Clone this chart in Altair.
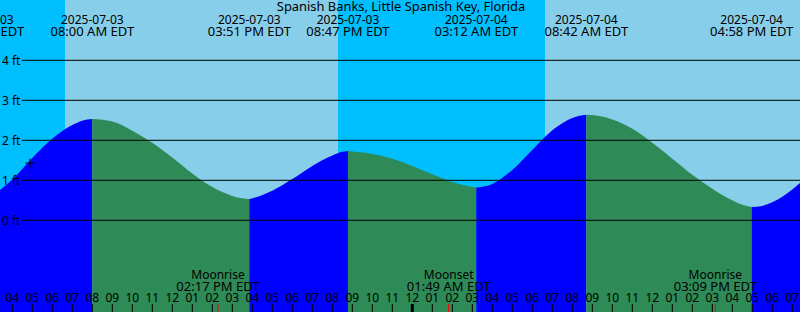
import altair as alt
import pandas as pd

# ---------------- data ----------------
TITLE = "Spanish Banks, Little Spanish Key, Florida"

# x axis: hours since 2025-07-03 00:00 EDT
X_DOMAIN = [3.385, 43.385]
Y_DOMAIN = [-2.2925, 5.5075]  # feet

sky_start = [3.385, 6.635, 20.285, 30.635]
sky_end = [6.635, 20.285, 30.635, 43.385]
sky_kind = ["night", "day", "night", "day"]

tide_hours = [3.385, 4, 5, 6, 7, 7.5, 8.0,
              9, 10, 11, 12, 13, 14, 15, 15.5, 15.85,
              16, 17, 18, 19, 20, 20.4, 20.783,
              21, 22, 23, 24, 25, 26, 27, 27.2,
              27.7, 28, 29, 30, 31, 32, 32.3, 32.7,
              33, 34, 35, 36, 37, 38, 39, 40, 40.5, 40.967,
              41.5, 42, 42.5, 43, 43.385]
tide_ft = [0.76, 1.02, 1.56, 2.04, 2.38, 2.49, 2.53,
           2.47, 2.24, 1.94, 1.57, 1.17, 0.83, 0.61, 0.55, 0.53,
           0.55, 0.74, 1.03, 1.36, 1.62, 1.70, 1.73,
           1.72, 1.66, 1.54, 1.36, 1.15, 0.96, 0.835, 0.82,
           0.855, 0.91, 1.26, 1.76, 2.25, 2.56, 2.61, 2.64,
           2.63, 2.52, 2.29, 1.94, 1.54, 1.14, 0.79, 0.50, 0.39, 0.33,
           0.36, 0.45, 0.59, 0.77, 0.93]

extreme_hours = [8.0, 15.85, 20.783, 27.2, 32.7, 40.967]
segment_dir = ["rising", "falling", "rising", "falling", "rising", "falling", "rising"]

event_hours = [2.5, 8.0, 15.85, 20.783, 27.2, 32.7, 40.967]
event_dates = ["2025-07-03", "2025-07-03", "2025-07-03", "2025-07-03",
               "2025-07-04", "2025-07-04", "2025-07-04"]
event_times = ["02:30 AM EDT", "08:00 AM EDT", "03:51 PM EDT", "08:47 PM EDT",
               "03:12 AM EDT", "08:42 AM EDT", "04:58 PM EDT"]

moon_hours = [14.283, 25.817, 39.15]
moon_names = ["Moonrise", "Moonset", "Moonrise"]
moon_times = ["02:17 PM EDT", "01:49 AM EDT", "03:09 PM EDT"]

hour_ticks = list(range(4, 44))
hour_labels = ["04", "05", "06", "07", "08", "09", "10", "11", "12",
               "01", "02", "03", "04", "05", "06", "07", "08", "09", "10", "11", "12",
               "01", "02", "03", "04", "05", "06", "07", "08", "09", "10", "11", "12",
               "01", "02", "03", "04", "05", "06", "07"]
midnight_hours = [24]

grid_ft = [0, 1, 2, 3, 4]
grid_labels = ["0 ft", "1 ft", "2 ft", "3 ft", "4 ft"]

now_hour = [4.885]
now_ft = [1.43]

# ---------------- tables ----------------
W, H = 800, 312
FONT = "Noto Sans"
FS = 12

sky_df = pd.DataFrame({"h": sky_start, "h2": sky_end, "kind": sky_kind})

rows = []
for h, v in zip(tide_hours, tide_ft):
    seg = sum(1 for e in extreme_hours if e < h)
    rows.append({"h": h, "ft": v, "base": Y_DOMAIN[0], "seg": seg, "kind": segment_dir[seg]})
    if h in extreme_hours:
        rows.append({"h": h, "ft": v, "base": Y_DOMAIN[0], "seg": seg + 1,
                     "kind": segment_dir[seg + 1]})
tide_df = pd.DataFrame(rows)

event_df = pd.DataFrame({"h": event_hours, "d": event_dates, "t": event_times})
moon_df = pd.DataFrame({"h": moon_hours, "n": moon_names, "t": moon_times})
tick_df = pd.DataFrame({"h": hour_ticks, "lab": hour_labels,
                        "w": [3 if h in midnight_hours else 1 for h in hour_ticks]})
grid_df = pd.DataFrame({"ft": grid_ft, "lab": grid_labels})
now_df = pd.DataFrame({"h": now_hour, "ft": now_ft})
title_df = pd.DataFrame({"t": [TITLE]})

xs = alt.Scale(domain=X_DOMAIN, nice=False, zero=False)
ys = alt.Scale(domain=Y_DOMAIN, nice=False, zero=False)
cs = alt.Scale(domain=["night", "day", "rising", "falling"],
               range=["#00bfff", "#87ceeb", "#0000ff", "#2e8b57"])

X = alt.X("h:Q", scale=xs, axis=None)
Y = alt.Y("ft:Q", scale=ys, axis=None)


def txt(df, size=FS, **kw):
    return alt.Chart(df).mark_text(font=FONT, fontSize=size, color="black", **kw)


sky = alt.Chart(sky_df).mark_rect().encode(
    x=X, x2="h2:Q", y=alt.value(0), y2=alt.value(H),
    color=alt.Color("kind:N", scale=cs, legend=None))

water = alt.Chart(tide_df).mark_area(interpolate="monotone", opacity=1).encode(
    x=X, y=alt.Y("ft:Q", scale=ys, axis=None, stack=None), y2="base:Q",
    color=alt.Color("kind:N", scale=cs, legend=None),
    detail="seg:N")

grid = alt.Chart(grid_df).mark_rule(color="black", strokeWidth=1).encode(
    y=Y, x=alt.value(22), x2=alt.value(W))

grid_text = txt(grid_df, align="left", baseline="middle", dy=0.5).encode(
    y=Y, x=alt.value(2), text="lab:N")

title = txt(title_df, size=12.9, align="center", baseline="alphabetic").encode(
    x=alt.value(401), y=alt.value(11), text="t:N")

ev_date = txt(event_df, align="center", baseline="alphabetic").encode(
    x=X, y=alt.value(24), text="d:N")
ev_time = txt(event_df, size=13, align="center", baseline="alphabetic").encode(
    x=X, y=alt.value(36), text="t:N")

ticks = alt.Chart(tick_df).mark_rule(color="black").encode(
    x=X, y=alt.value(304), y2=alt.value(H),
    strokeWidth=alt.StrokeWidth("w:Q", scale=None))

moon_ticks = alt.Chart(moon_df).mark_rule(color="red", strokeWidth=1).encode(
    x=X, y=alt.value(304), y2=alt.value(H))

hour_text = txt(tick_df, align="center", baseline="alphabetic").encode(
    x=X, y=alt.value(302), text="lab:N")

moon_name = txt(moon_df, align="center", baseline="alphabetic").encode(
    x=X, y=alt.value(278.5), text="n:N")
moon_time = txt(moon_df, size=13, align="center", baseline="alphabetic").encode(
    x=X, y=alt.value(290.5), text="t:N")

now_mark = alt.Chart(now_df).mark_point(
    shape="M-1,0L1,0M0,-1L0,1", size=81, stroke="black", strokeWidth=1,
    filled=False, opacity=1).encode(x=X, y=Y)

chart = alt.layer(
    sky, water, grid, grid_text, title, ev_date, ev_time,
    ticks, moon_ticks, hour_text, moon_name, moon_time, now_mark
).properties(
    width=W, height=H, padding=0, autosize="none", background="#00bfff"
).configure_view(stroke=None)

chart.save("out.html", embed_options={"renderer": "svg", "actions": False})
